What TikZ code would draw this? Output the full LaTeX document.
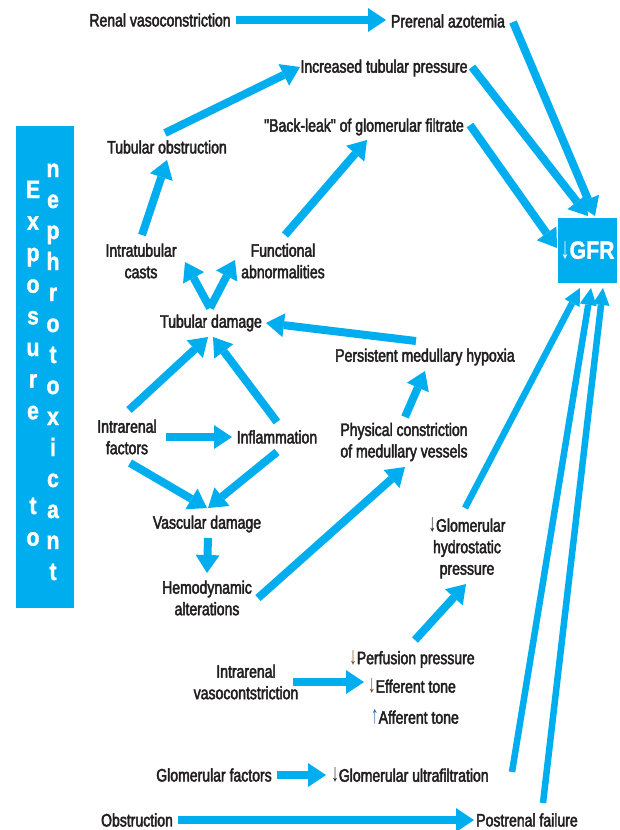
\documentclass[tikz,border=0pt]{standalone}
\usepackage{fontspec}
\setmainfont[FakeStretch=0.78,FakeBold=2.5,Ligatures=TeXOff]{Liberation Sans}
\newfontfamily\expfont[FakeStretch=0.85,FakeBold=1.5]{Liberation Sans Bold}
\newfontfamily\arrfont[FakeStretch=0.6]{Liberation Sans}
\usetikzlibrary{arrows.meta}
\definecolor{cy}{HTML}{00AEEF}
\definecolor{tx}{HTML}{231F20}
\definecolor{brn}{HTML}{7A4A1E}
\definecolor{blu}{HTML}{1F6DB5}
\newcommand\dnar[1][tx]{{\arrfont\fontsize{25}{21}\selectfont\color{#1}↓}}
\newcommand\upar[1][tx]{{\arrfont\fontsize{25}{21}\selectfont\color{#1}↑}}
\tikzset{
  txt/.style={text=tx, font=\fontsize{18}{21.5}\selectfont, align=center, inner sep=1pt},
  arr/.style={cy, line width=8pt, -{Triangle[width=24pt,length=18pt,line width=0pt]}},
  arrs/.style={cy, line width=6.5pt, -{Triangle[width=17pt,length=17pt,line width=0pt]}},
  expl/.style={text=white, font=\expfont\fontsize{25}{25}\selectfont, inner sep=0pt, anchor=base},
}
\begin{document}
\begin{tikzpicture}[x=1pt,y=-1pt]
\useasboundingbox (0,0) rectangle (619,830);
% side box
\node[fill=cy, minimum width=58pt, minimum height=482pt, inner sep=0pt] (expo) at (45,367) {};
\foreach \l [count=\i from 0] in {E,x,p,o,s,u,r,e,{},{},t,o}
  \node[expl] (el\i) at (33,198+31.6*\i) {\l};
\foreach \l [count=\i from 0] in {n,e,p,h,r,o,t,o,x,i,c,a,n,t}
  \node[expl] (er\i) at (53,177+31*\i) {\l};
% GFR box
\node[fill=cy, minimum width=59pt, minimum height=65pt, inner sep=0pt, text=white] (gfr) at (587.5,250.5)
  {{\arrfont\fontsize{30}{30}\selectfont↓}{\expfont\fontsize{25}{25}\selectfont GFR}};
% text nodes
\node[txt] (ren) at (160,20) {Renal vasoconstriction};
\node[txt] (pre) at (448,21) {Prerenal azotemia};
\node[txt] (itp) at (384,68) {Increased tubular pressure};
\node[txt] (bl) at (364,127) {"Back-leak" of glomerular filtrate};
\node[txt] (tobs) at (167,147) {Tubular obstruction};
\node[txt] (cast) at (141,261) {Intratubular\\casts};
\node[txt] (func) at (283,261) {Functional\\abnormalities};
\node[txt] (tdam) at (211,323) {Tubular damage};
\node[txt] (pmh) at (425,357) {Persistent medullary hypoxia};
\node[txt] (irf) at (127,437) {Intrarenal\\factors};
\node[txt] (infl) at (277,437) {Inflammation};
\node[txt] (pc) at (404,442) {Physical constriction\\of medullary vessels};
\node[txt] (vd) at (207,524) {Vascular damage};
\node[txt] (hd) at (207,598) {Hemodynamic\\alterations};
\node[txt] (ghp) at (467,548) {\dnar Glomerular\\hydrostatic\\pressure};
\node[txt] (perf) at (412,659) {\dnar[brn]Perfusion pressure};
\node[txt] (eff) at (412,686) {\dnar[brn]Efferent tone};
\node[txt] (aff) at (415,717) {\upar[blu]Afferent tone};
\node[txt] (ivc) at (246,682) {Intrarenal\\vasocontstriction};
\node[txt] (gf) at (214,775) {Glomerular factors};
\node[txt] (gu) at (410,775) {\dnar Glomerular ultrafiltration};
\node[txt] (obs) at (137,820) {Obstruction};
\node[txt] (post) at (527,820) {Postrenal failure};
% connectors
\draw[arr] ([shift={(76,0)}]ren.center) -- ([shift={(-62,-1)}]pre.center);
\draw[arr] ([shift={(-2,-14)}]tobs.center) -- ([shift={(-84,-1)}]itp.center);
\draw[arr] ([shift={(1,-26)}]cast.center) -- ([shift={(0,13)}]tobs.center);
\draw[arr] ([shift={(2,-26)}]func.center) -- ([shift={(3,13)}]bl.center);
\draw[arr] ([shift={(-1,-15)}]tdam.center) -- ([shift={(44,1)}]cast.center);
\draw[arr] ([shift={(-1,-15)}]tdam.center) -- ([shift={(-48,-1)}]func.center);
\draw[arr] ([shift={(-9,-16)}]pmh.center) -- ([shift={(55,0)}]tdam.center);
\draw[arr] ([shift={(2,-27)}]irf.center) -- ([shift={(-3,14)}]tdam.center);
\draw[arr] ([shift={(0,-15)}]infl.center) -- ([shift={(2,14)}]tdam.center);
\draw[arr] ([shift={(39,0)}]irf.center) -- ([shift={(-45,0)}]infl.center);
\draw[arr] ([shift={(3,26)}]irf.center) -- ([shift={(0,-16)}]vd.center);
\draw[arr] ([shift={(0,15)}]infl.center) -- ([shift={(1,-16)}]vd.center);
\draw[arr] ([shift={(1,14)}]vd.center) -- ([shift={(0,-25)}]hd.center);
\draw[arr] ([shift={(51,0)}]hd.center) -- ([shift={(1,25)}]pc.center);
\draw[arr] ([shift={(1,-25)}]pc.center) -- ([shift={(0,14)}]pmh.center);
\draw[arrs] ([shift={(-2,-40)}]ghp.center) -- ([shift={(-7.5,37.5)}]gfr.center);
\draw[arr] ([shift={(3,-19)}]perf.center) -- ([shift={(-1,36)}]ghp.center);
\draw[arr] ([shift={(47,0)}]ivc.center) -- ([shift={(-48,-4)}]eff.center);
\draw[arr] ([shift={(63,0)}]gf.center) -- ([shift={(-84,0)}]gu.center);
\draw[arrs] ([shift={(102,-3)}]gu.center) -- ([shift={(3.5,37.5)}]gfr.center);
\draw[arr] ([shift={(41,0)}]obs.center) -- ([shift={(-53,0)}]post.center);
\draw[arrs] ([shift={(16,-17)}]post.center) -- ([shift={(15.5,37.5)}]gfr.center);
\draw[arr] ([shift={(65,1)}]pre.center) -- ([shift={(7.5,-34.5)}]gfr.center);
\draw[arr] ([shift={(88,-1)}]itp.center) -- ([shift={(0.5,-34.5)}]gfr.center);
\draw[arr] ([shift={(106,-2)}]bl.center) -- ([shift={(-30.5,-2.5)}]gfr.center);
\end{tikzpicture}
\end{document}
